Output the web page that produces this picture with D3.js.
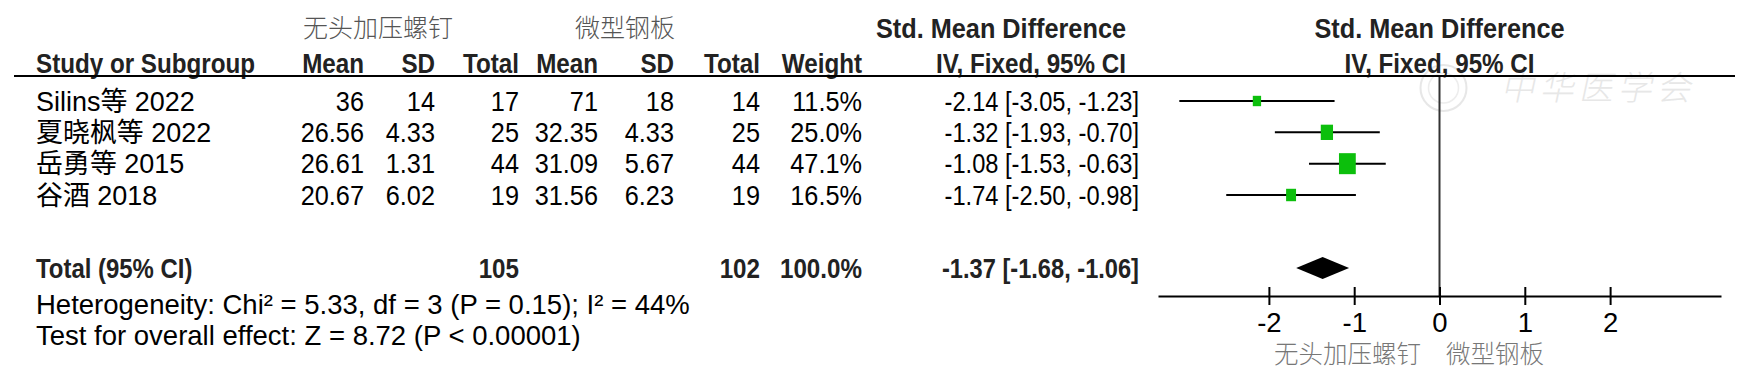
<!DOCTYPE html>
<html>
<head>
<meta charset="utf-8">
<script src="https://cdn.jsdelivr.net/npm/d3@7"></script>
<style>
  body { margin: 0; background: #fff; }
  svg { display: block; }
</style>
</head>
<body>
<div id="chart"></div>
<script>
// ---- data ----
var studies  = ["Silins等 2022", "夏晓枫等 2022", "岳勇等 2015", "谷酒 2018"];
var mean1    = [36, 26.56, 26.61, 20.67];
var sd1      = [14, 4.33, 1.31, 6.02];
var total1   = [17, 25, 44, 19];
var mean2    = [71, 32.35, 31.09, 31.56];
var sd2      = [18, 4.33, 5.67, 6.23];
var total2   = [14, 25, 44, 19];
var weights  = [11.5, 25.0, 47.1, 16.5];
var smd      = [-2.14, -1.32, -1.08, -1.74];
var ciLow    = [-3.05, -1.93, -1.53, -2.50];
var ciHigh   = [-1.23, -0.70, -0.63, -0.98];
var totalSmd = [-1.37, -1.68, -1.06];   // estimate, lower, upper
var totalWeight = 100.0;
var axisTicks = [-2, -1, 0, 1, 2];
var groupNames = ["无头加压螺钉", "微型钢板"];
var heterogeneity = "Heterogeneity: Chi² = 5.33, df = 3 (P = 0.15); I² = 44%";
var overallTest = "Test for overall effect: Z = 8.72 (P < 0.00001)";

var width = 1758, height = 376;
var SANS = '"Liberation Sans", Arial, "Noto Sans CJK SC", sans-serif';
var CJK = '"Noto Sans CJK SC", sans-serif';
var fs = 27.5;

var svg = d3.select("#chart").append("svg")
    .attr("width", width)
    .attr("height", height);

var loc = d3.formatLocale({decimal: ".", thousands: ",", grouping: [3], currency: ["", ""], minus: "-"});
var f2 = loc.format(".2f"),
    f1 = loc.format(".1f");
function ciText(e, l, h) { return f2(e) + " [" + f2(l) + ", " + f2(h) + "]"; }

// the original font is a bit narrower than Liberation Sans, so squeeze horizontally
function txt(g, x, y, s, anchor, sx, isBold) {
  return g.append("text")
    .attr("transform", "translate(" + x + "," + y + ") scale(" + sx + ",1)")
    .attr("dy", "0.35em")
    .attr("text-anchor", anchor || "start")
    .style("font-family", SANS).style("font-size", fs + "px")
    .style("font-weight", isBold ? "bold" : "normal")
    .attr("fill", isBold ? "#222" : "#000").text(s);
}
function cjkLabel(g, x, y, s, anchor, color, size) {
  return g.append("text").attr("x", x).attr("y", y).attr("dy", "0.35em")
    .attr("text-anchor", anchor || "start")
    .style("font-family", CJK).style("font-weight", 300).style("font-size", size + "px")
    .attr("fill", color).text(s);
}

// column right edges
var cols = [
  {head: "Mean",   x: 364, vals: mean1},
  {head: "SD",     x: 435, vals: sd1},
  {head: "Total",  x: 519, vals: total1},
  {head: "Mean",   x: 598, vals: mean2},
  {head: "SD",     x: 674, vals: sd2},
  {head: "Total",  x: 760, vals: total2},
  {head: "Weight", x: 862, vals: weights.map(function(w){ return f1(w) + "%"; })}
];
var ciX = 1139, ciHeadX = 1126, leftX = 36;

var rowY = d3.scaleLinear().domain([0, studies.length - 1]).range([101, 195]);
var totalY = 268;

// forest scale
var x = d3.scaleLinear().domain([-3.3, 3.3]).range([1158, 1721]);
var boxH = d3.scaleSqrt().domain([0, d3.max(weights)]).range([0, 21]);

// faint watermark
var wm = svg.append("g").attr("opacity", 0.35);
wm.append("circle").attr("cx", x(0) + 4).attr("cy", 88).attr("r", 23)
  .attr("fill", "none").attr("stroke", "#bbb").attr("stroke-width", 2);
wm.append("circle").attr("cx", x(0) + 4).attr("cy", 88).attr("r", 15)
  .attr("fill", "none").attr("stroke", "#ccc").attr("stroke-width", 1.5);
wm.append("text").attr("x", 1503).attr("y", 88).attr("dy", "0.35em")
  .attr("transform", "skewX(-12) translate(19,0)")
  .style("font-family", CJK).style("font-weight", 300)
  .style("font-size", "34px").style("letter-spacing", "5px")
  .attr("fill", "#bbb").text("中华医学会");

// group headers
cjkLabel(svg, 378, 28, groupNames[0], "middle", "#555", 25);
cjkLabel(svg, 625, 28, groupNames[1], "middle", "#555", 25);
txt(svg, ciHeadX, 28, "Std. Mean Difference", "end", 0.92, true);
txt(svg, x(0), 28, "Std. Mean Difference", "middle", 0.92, true);

// column header row
txt(svg, leftX, 63, "Study or Subgroup", "start", 0.88, true);
cols.forEach(function(c){ txt(svg, c.x, 63, c.head, "end", 0.88, true); });
txt(svg, ciHeadX, 63, "IV, Fixed, 95% CI", "end", 0.88, true);
txt(svg, x(0), 63, "IV, Fixed, 95% CI", "middle", 0.88, true);

svg.append("line").attr("x1", 14).attr("x2", 1735).attr("y1", 76).attr("y2", 76)
  .attr("stroke", "#000").attr("stroke-width", 2);

// study rows
var rows = svg.selectAll("g.row").data(studies).enter().append("g")
  .attr("class", "row")
  .attr("transform", function(d, i){ return "translate(0," + rowY(i) + ")"; });

rows.each(function(d, i){
  var g = d3.select(this);
  txt(g, leftX, 0, d, "start", 0.98);
  cols.forEach(function(c){ txt(g, c.x, 0, String(c.vals[i]), "end", 0.92); });
  txt(g, ciX, 0, ciText(smd[i], ciLow[i], ciHigh[i]), "end", 0.86);
});

// CI lines and boxes
rows.append("line")
  .attr("x1", function(d, i){ return x(ciLow[i]); })
  .attr("x2", function(d, i){ return x(ciHigh[i]); })
  .attr("stroke", "#000").attr("stroke-width", 2);
rows.append("rect")
  .attr("x", function(d, i){ return x(smd[i]) - boxH(weights[i]) * 0.4; })
  .attr("y", function(d, i){ return -boxH(weights[i]) / 2; })
  .attr("width", function(d, i){ return boxH(weights[i]) * 0.8; })
  .attr("height", function(d, i){ return boxH(weights[i]); })
  .attr("fill", "#0cbf0c");

// total row
var tot = svg.append("g").attr("transform", "translate(0," + totalY + ")");
txt(tot, leftX, 0, "Total (95% CI)", "start", 0.87, true);
txt(tot, cols[2].x, 0, d3.sum(total1), "end", 0.88, true);
txt(tot, cols[5].x, 0, d3.sum(total2), "end", 0.88, true);
txt(tot, cols[6].x, 0, f1(totalWeight) + "%", "end", 0.88, true);
txt(tot, ciX, 0, ciText(totalSmd[0], totalSmd[1], totalSmd[2]), "end", 0.86, true);

tot.append("path")
  .attr("d", "M" + x(totalSmd[1]) + ",0L" + x(totalSmd[0]) + ",-11L" + x(totalSmd[2]) + ",0L" + x(totalSmd[0]) + ",11Z")
  .attr("fill", "#000");

// footnotes
txt(svg, leftX, 304, heterogeneity, "start", 1.0);
txt(svg, leftX, 335, overallTest, "start", 1.0);

// zero line
var axisY = 296;
svg.append("line").attr("x1", x(0)).attr("x2", x(0)).attr("y1", 77).attr("y2", axisY)
  .attr("stroke", "#333").attr("stroke-width", 2);

// axis
var ax = svg.append("g").attr("transform", "translate(0," + axisY + ")")
  .call(d3.axisBottom(x).tickValues(axisTicks).tickSizeOuter(0).tickFormat(loc.format("d")));
ax.select(".domain").attr("stroke", "#000").attr("stroke-width", 2);
ax.selectAll(".tick line").attr("y1", -9).attr("y2", 9).attr("stroke", "#000").attr("stroke-width", 2);
ax.selectAll(".tick text").attr("y", 26).attr("dy", "0.35em")
  .style("font-family", SANS).style("font-size", fs + "px").attr("fill", "#000");

cjkLabel(svg, 1421, 354, groupNames[0], "end", "#777", 24.5);
cjkLabel(svg, 1446, 354, groupNames[1], "start", "#777", 24.5);
</script>
</body>
</html>
